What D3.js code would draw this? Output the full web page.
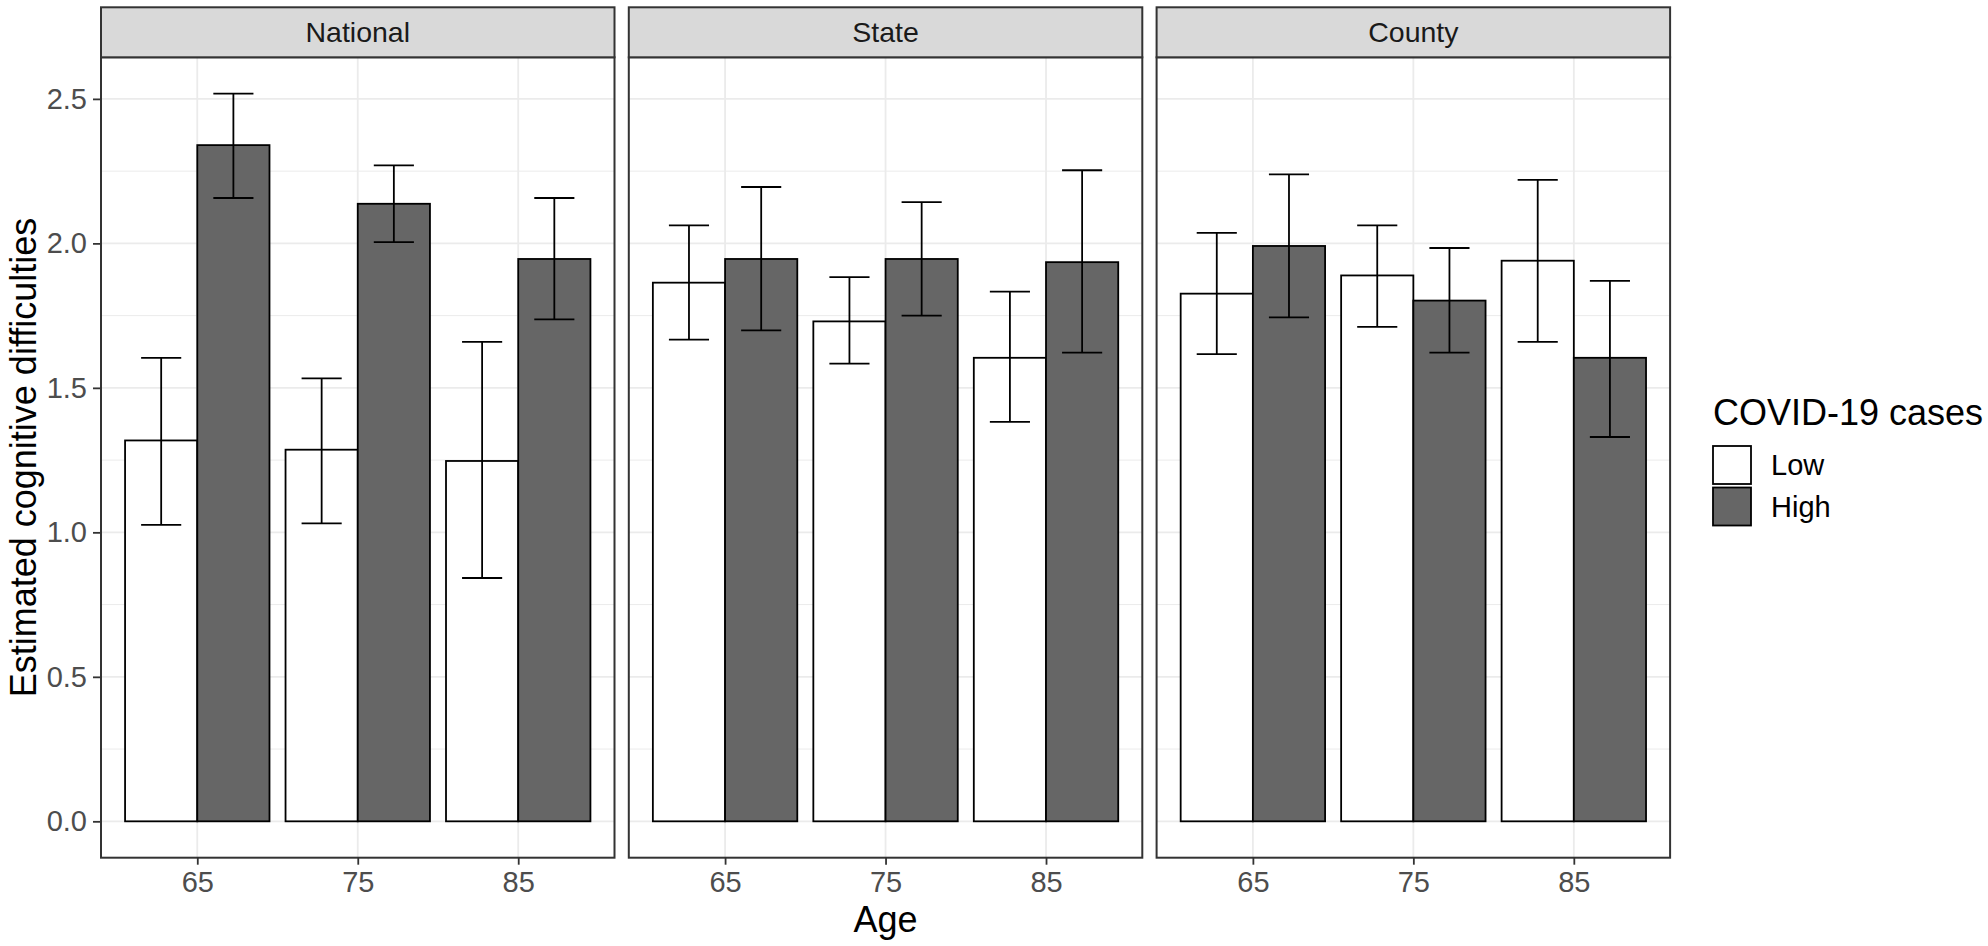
<!DOCTYPE html>
<html>
<head>
<meta charset="utf-8">
<script src="https://cdn.jsdelivr.net/npm/d3@7"></script>
<style>
  body { margin: 0; background: #fff; }
  text { font-family: "Liberation Sans", Arial, sans-serif; }
</style>
</head>
<body>
<div id="chart"></div>
<script>
// Data
const regions = ["National", "State", "County"];
const ages = ["65", "75", "85"];
const groups = ["Low", "High"];
const yTicks = [0, 0.5, 1.0, 1.5, 2.0, 2.5];

// ordered region by region, then age
const lowMean  = [1.318, 1.286, 1.247, 1.864, 1.730, 1.604, 1.826, 1.889, 1.940];
const lowLower = [1.026, 1.031, 0.842, 1.667, 1.584, 1.382, 1.617, 1.711, 1.659];
const lowUpper = [1.604, 1.533, 1.659, 2.062, 1.883, 1.833, 2.036, 2.062, 2.220];
const highMean  = [2.340, 2.137, 1.946, 1.946, 1.946, 1.935, 1.991, 1.802, 1.604];
const highLower = [2.157, 2.004, 1.737, 1.699, 1.750, 1.622, 1.744, 1.622, 1.330];
const highUpper = [2.518, 2.270, 2.157, 2.195, 2.143, 2.253, 2.239, 1.984, 1.870];

const fills = { Low: "#FFFFFF", High: "#666666" };

// Build rows
const rows = [];
regions.forEach((r, ri) => {
    ages.forEach((a, ai) => {
        const k = ri * ages.length + ai;
        rows.push({ region: r, age: a, group: "Low", mean: lowMean[k], lower: lowLower[k], upper: lowUpper[k] });
        rows.push({ region: r, age: a, group: "High", mean: highMean[k], lower: highLower[k], upper: highUpper[k] });
    });
});

// Layout
const width = 1988, height = 946;
const panelLeft = 101, panelW = 513.5, panelGap = 14.3;
const stripTop = 7.3, panelTop = 57.3, panelBottom = 857.7;

const svg = d3.select("#chart")
    .append("svg")
    .attr("width", width)
    .attr("height", height);

svg.append("rect").attr("width", width).attr("height", height).attr("fill", "#fff");

// y scale with ggplot-like 5% expansion
const yMax = d3.max(rows, d => d.upper);
const pad = yMax * 0.05;
const yScale = d3.scaleLinear()
    .domain([-pad, yMax + pad])
    .range([panelBottom, panelTop]);

const xScale = d3.scalePoint()
    .domain(ages)
    .range([0, panelW])
    .padding(0.6);
const step = xScale.step();

const minorTicks = d3.range(0.25, yMax + pad, 0.5);

regions.forEach((region, ri) => {
    const x0 = panelLeft + ri * (panelW + panelGap);
    const g = svg.append("g").attr("transform", "translate(" + x0 + ",0)");

    // Grid
    g.selectAll(".minor")
        .data(minorTicks)
        .enter().append("line")
        .attr("x1", 0).attr("x2", panelW)
        .attr("y1", d => yScale(d)).attr("y2", d => yScale(d))
        .attr("stroke", "#EBEBEB").attr("stroke-width", 1);

    g.selectAll(".major")
        .data(yTicks)
        .enter().append("line")
        .attr("x1", 0).attr("x2", panelW)
        .attr("y1", d => yScale(d)).attr("y2", d => yScale(d))
        .attr("stroke", "#EBEBEB").attr("stroke-width", 1.8);

    g.selectAll(".vgrid")
        .data(ages)
        .enter().append("line")
        .attr("x1", d => xScale(d)).attr("x2", d => xScale(d))
        .attr("y1", panelTop).attr("y2", panelBottom)
        .attr("stroke", "#EBEBEB").attr("stroke-width", 1.8);

    const data = rows.filter(d => d.region === region);

    // Bars
    g.selectAll(".bar")
        .data(data)
        .enter().append("rect")
        .attr("x", d => xScale(d.age) + (d.group === "Low" ? -0.45 * step : 0))
        .attr("width", 0.45 * step)
        .attr("y", d => yScale(d.mean))
        .attr("height", d => yScale(0) - yScale(d.mean))
        .attr("fill", d => fills[d.group])
        .attr("stroke", "#000")
        .attr("stroke-width", 1.8);

    // Error bars
    const cx = d => xScale(d.age) + (d.group === "Low" ? -0.225 : 0.225) * step;
    const capW = 0.125 * step;
    const eb = g.selectAll(".err")
        .data(data)
        .enter().append("g")
        .attr("stroke", "#000")
        .attr("stroke-width", 1.8);
    eb.append("line")
        .attr("x1", cx).attr("x2", cx)
        .attr("y1", d => yScale(d.lower)).attr("y2", d => yScale(d.upper));
    eb.append("line")
        .attr("x1", d => cx(d) - capW).attr("x2", d => cx(d) + capW)
        .attr("y1", d => yScale(d.upper)).attr("y2", d => yScale(d.upper));
    eb.append("line")
        .attr("x1", d => cx(d) - capW).attr("x2", d => cx(d) + capW)
        .attr("y1", d => yScale(d.lower)).attr("y2", d => yScale(d.lower));

    // Panel border
    g.append("rect")
        .attr("x", 0).attr("y", panelTop)
        .attr("width", panelW).attr("height", panelBottom - panelTop)
        .attr("fill", "none").attr("stroke", "#333333").attr("stroke-width", 2);

    // Strip
    g.append("rect")
        .attr("x", 0).attr("y", stripTop)
        .attr("width", panelW).attr("height", panelTop - stripTop)
        .attr("fill", "#D9D9D9").attr("stroke", "#333333").attr("stroke-width", 2);
    g.append("text")
        .attr("x", panelW / 2)
        .attr("y", (stripTop + panelTop) / 2 + 10)
        .attr("text-anchor", "middle")
        .attr("font-size", 28.5)
        .attr("fill", "#1A1A1A")
        .text(region);

    // X axis
    const xAxis = g.append("g")
        .attr("transform", "translate(0," + panelBottom + ")")
        .call(d3.axisBottom(xScale).tickSize(7).tickPadding(7));
    xAxis.select(".domain").remove();
    xAxis.selectAll(".tick line").attr("stroke", "#333333").attr("stroke-width", 1.8);
    xAxis.selectAll(".tick text")
        .attr("font-size", 29)
        .attr("font-family", "Liberation Sans, Arial, sans-serif")
        .attr("fill", "#4D4D4D");

    // Y axis on the first panel only
    if (ri === 0) {
        const yAxis = g.append("g")
            .call(d3.axisLeft(yScale).tickValues(yTicks).tickFormat(d3.format(".1f")).tickSize(8).tickPadding(6));
        yAxis.select(".domain").remove();
        yAxis.selectAll(".tick line").attr("stroke", "#333333").attr("stroke-width", 1.8);
        yAxis.selectAll(".tick text")
            .attr("font-size", 29)
            .attr("font-family", "Liberation Sans, Arial, sans-serif")
            .attr("fill", "#4D4D4D");
    }
});

// Axis titles
const plotRight = panelLeft + 3 * panelW + 2 * panelGap;
svg.append("text")
    .attr("x", (panelLeft + plotRight) / 2)
    .attr("y", 932)
    .attr("text-anchor", "middle")
    .attr("font-size", 36)
    .attr("fill", "#000")
    .text("Age");

svg.append("text")
    .attr("transform", "translate(36," + (panelTop + panelBottom) / 2 + ") rotate(-90)")
    .attr("text-anchor", "middle")
    .attr("font-size", 36)
    .attr("fill", "#000")
    .text("Estimated cognitive difficulties");

// Legend
const legend = svg.append("g").attr("transform", "translate(1713,0)");
legend.append("text")
    .attr("x", 0).attr("y", 425)
    .attr("font-size", 36)
    .attr("fill", "#000")
    .text("COVID-19 cases");

const keys = legend.selectAll(".key")
    .data(groups)
    .enter().append("g")
    .attr("transform", (d, i) => "translate(0," + (446 + i * 41.5) + ")");
keys.append("rect")
    .attr("width", 38).attr("height", 38)
    .attr("fill", d => fills[d])
    .attr("stroke", "#000").attr("stroke-width", 1.8);
keys.append("text")
    .attr("x", 58).attr("y", 19)
    .attr("dy", "0.35em")
    .attr("font-size", 29)
    .attr("fill", "#000")
    .text(d => d);
</script>
</body>
</html>
